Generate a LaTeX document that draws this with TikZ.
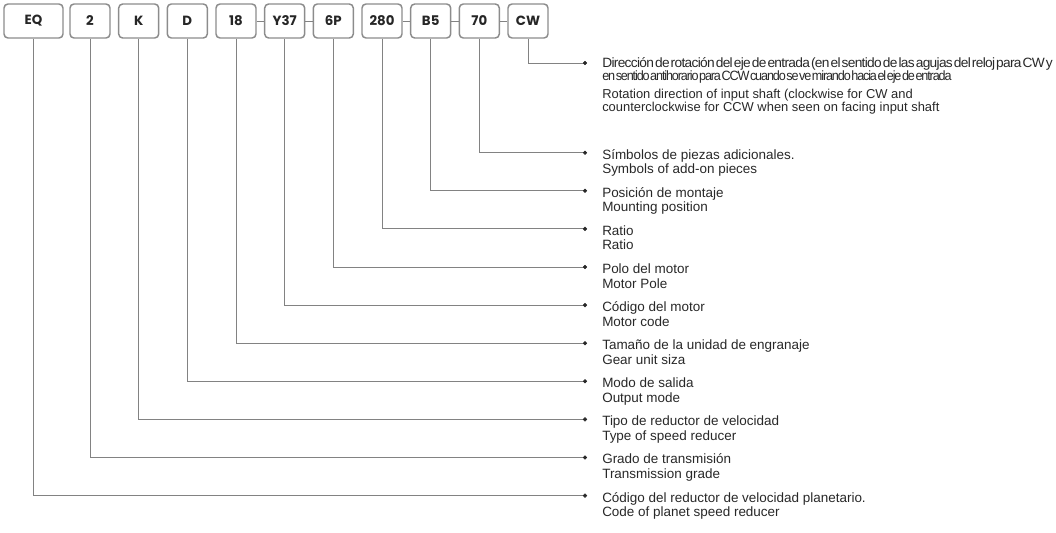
\documentclass[tikz,border=0pt]{standalone}
\usepackage{fontspec}
\usepackage{xcolor}
\usepackage{graphicx}
\setmainfont{Liberation Sans}
\newfontfamily\codefont{Poppins}
\newfontfamily\tightfont[LetterSpace=-5, WordSpace=0.35]{Liberation Sans}
\newfontfamily\tighterfont[LetterSpace=-9, WordSpace=0.25]{Liberation Sans}

\definecolor{linegray}{RGB}{130,130,130}
\definecolor{boxgray}{RGB}{140,140,140}
\definecolor{txtgray}{RGB}{40,40,40}

\tikzset{
	codebox/.style={draw=boxgray, line width=1.1pt, rounded corners=3pt, fill=white, minimum width=30pt, minimum height=25.5pt, inner sep=0pt, text=black!85, font=\codefont\bfseries\fontsize{10}{12}\selectfont},
	lead/.style={draw=linegray, line width=0.75pt},
	lbl/.style={anchor=base west, align=left, inner sep=0pt, text=txtgray, font=\fontsize{10.1}{10.9}\selectfont},
}

\begin{document}
\begin{tikzpicture}[x=0.75pt, y=-0.75pt]
		\useasboundingbox (0,0) rectangle (1056,532);
		
		%Code boxes
		\node[codebox, minimum width=44.25pt] (eq) at (33.5,21) {EQ};
		\node[codebox] (grade) at (90,21) {2};
		\node[codebox] (type) at (138.7,21) {K};
		\node[codebox] (output) at (187.3,21) {D};
		\node[codebox] (size) at (236,21) {18};
		\node[codebox] (motor) at (284.7,21) {Y37};
		\node[codebox] (pole) at (333.3,21) {6P};
		\node[codebox] (ratio) at (382,21) {280};
		\node[codebox] (mount) at (430.7,21) {B5};
		\node[codebox] (addon) at (479.3,21) {70};
		\node[codebox] (dir) at (528,21) {CW};
		
		\draw[lead] (size) -- (motor);
		\draw[lead] (motor) -- (pole);
		\draw[lead] (ratio) -- (mount);
		\draw[lead] (mount) -- (addon);
		\draw[lead] (addon) -- (dir);
		
		%Bullets
		\coordinate (dir-b) at (585,63);
		\coordinate (addon-b) at (585,152.7);
		\coordinate (mount-b) at (585,190.8);
		\coordinate (ratio-b) at (585,228.9);
		\coordinate (pole-b) at (585,267);
		\coordinate (motor-b) at (585,305.1);
		\coordinate (size-b) at (585,343.2);
		\coordinate (output-b) at (585,381.3);
		\coordinate (type-b) at (585,419.4);
		\coordinate (grade-b) at (585,457.5);
		\coordinate (eq-b) at (585,495.6);
		
		%Leaders
		\draw[lead] (dir.south) |- (dir-b);
		\draw[lead] (addon.south) |- (addon-b);
		\draw[lead] (mount.south) |- (mount-b);
		\draw[lead] (ratio.south) |- (ratio-b);
		\draw[lead] (pole.south) |- (pole-b);
		\draw[lead] (motor.south) |- (motor-b);
		\draw[lead] (size.south) |- (size-b);
		\draw[lead] (output.south) |- (output-b);
		\draw[lead] (type.south) |- (type-b);
		\draw[lead] (grade.south) |- (grade-b);
		\draw[lead] (eq.south) |- (eq-b);
		
		\filldraw[txtgray] (dir-b) circle (1.8);
		\filldraw[txtgray] (addon-b) circle (1.8);
		\filldraw[txtgray] (mount-b) circle (1.8);
		\filldraw[txtgray] (ratio-b) circle (1.8);
		\filldraw[txtgray] (pole-b) circle (1.8);
		\filldraw[txtgray] (motor-b) circle (1.8);
		\filldraw[txtgray] (size-b) circle (1.8);
		\filldraw[txtgray] (output-b) circle (1.8);
		\filldraw[txtgray] (type-b) circle (1.8);
		\filldraw[txtgray] (grade-b) circle (1.8);
		\filldraw[txtgray] (eq-b) circle (1.8);
		
		%Labels
		\node[lbl, font=\tightfont\fontsize{10.1}{9.75}\selectfont] (dir-es) at (602,80.5) {\resizebox{338pt}{\height}{Dirección de rotación del eje de entrada (en el sentido de las agujas del reloj para CW y}\\\resizebox{262pt}{\height}{\tighterfont en sentido antihorario para CCW cuando se ve mirando hacia el eje de entrada}};
		\node[lbl, font=\fontsize{9.7}{9.4}\selectfont] (dir-en) at (602,111.5) {Rotation direction of input shaft (clockwise for CW and\\counterclockwise for CCW when seen on facing input shaft};
		\node[lbl] (addon-t) at (602,173.7) {Símbolos de piezas adicionales.\\Symbols of add-on pieces};
		\node[lbl] (mount-t) at (602,211.8) {Posición de montaje\\Mounting position};
		\node[lbl] (ratio-t) at (602,249.9) {Ratio\\Ratio};
		\node[lbl] (pole-t) at (602,288) {Polo del motor\\Motor Pole};
		\node[lbl] (motor-t) at (602,326.1) {Código del motor\\Motor code};
		\node[lbl] (size-t) at (602,364.2) {Tamaño de la unidad de engranaje\\Gear unit siza};
		\node[lbl] (output-t) at (602,402.3) {Modo de salida\\Output mode};
		\node[lbl] (type-t) at (602,440.4) {Tipo de reductor de velocidad\\Type of speed reducer};
		\node[lbl] (grade-t) at (602,478.5) {Grado de transmisión\\Transmission grade};
		\node[lbl] (eq-t) at (602,516.6) {Código del reductor de velocidad planetario.\\Code of planet speed reducer};
		
\end{tikzpicture}
\end{document}
